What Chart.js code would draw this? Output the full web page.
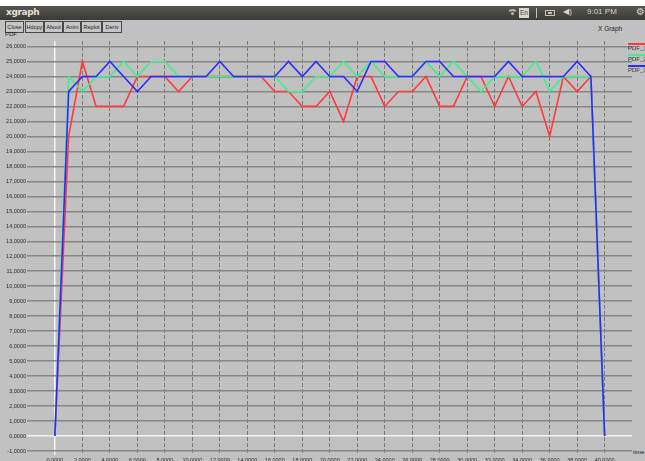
<!DOCTYPE html>
<html>
<head>
<meta charset="utf-8">
<script src="https://cdn.jsdelivr.net/npm/chart.js@4/dist/chart.umd.min.js"></script>
<style>
  html, body { margin: 0; padding: 0; }
  body { width: 645px; height: 461px; overflow: hidden; background: #c1c1c1; position: relative;
         font-family: "Liberation Sans", "DejaVu Sans", sans-serif; }
  #strip { position: absolute; left: 0; top: 0; width: 645px; height: 6px; background: #fff; }
  #panel { position: absolute; left: 0; top: 6px; width: 645px; height: 14px;
           background: linear-gradient(#57554f, #3c3b37); }
  #title { position: absolute; left: 6px; top: 7px; font: bold 9px "DejaVu Sans", sans-serif;
           color: #e4e0d8; letter-spacing: -0.4px; }
  .btn { position: absolute; top: 21px; height: 10px; border: 1px solid #4a4a4a; background: #c6c6c6;
         font-size: 5.6px; line-height: 10px; text-align: center; color: #222; box-sizing: content-box;
         overflow: hidden; white-space: nowrap; }
  .tray { position: absolute; color: #d8d4cc; }
  #wifi { left: 507px; top: 9px; width: 11px; height: 11px; border: 2px solid #bdbab2;
          border-color: #bdbab2 transparent transparent transparent; border-radius: 50%; box-sizing: border-box; }
  #wifi::after { content: ""; position: absolute; left: 2px; top: 1px; width: 3px; height: 3px; background: #bdbab2; border-radius: 50%; }
  #lang { left: 519px; top: 8px; width: 10px; height: 10px; background: #d9d6cf; color: #3c3b37;
          font-size: 6.5px; line-height: 10px; text-align: center; }
  #bt { left: 536px; top: 8px; width: 2px; height: 10px; border-left: 1px solid #c8c4bc; }
  #batt { left: 545px; top: 10px; width: 10px; height: 6px; border: 1px solid #c8c4bc; box-sizing: border-box; }
  #batt::after { content: ""; position: absolute; left: 2px; top: 1px; width: 4px; height: 2px; background: #c8c4bc; }
  #vol { left: 563px; top: 7px; font-size: 8px; }
  #clock { left: 587px; top: 7px; font-size: 8px; }
  #gear { left: 636px; top: 6px; font: 10px "DejaVu Sans", sans-serif; }
  #xg { position: absolute; left: 598px; top: 25px; font-size: 6.5px; color: #222; }
  #ylab { position: absolute; left: 5px; top: 31px; font-size: 6px; color: #222; }
  #tlab { position: absolute; left: 633px; top: 449px; font-size: 6px; color: #222; }
  .key { position: absolute; left: 628px; width: 20px; height: 9px; }
  .key span { position: absolute; left: 0; top: 0; width: 20px; height: 2px; }
  .key i { position: absolute; left: 0; top: 2px; font-style: normal; font-size: 6px; color: #333; white-space: nowrap; }
  #chart { position: absolute; left: 0; top: 0; }
</style>
</head>
<body>
<div id="strip"></div>
<div id="panel"></div>
<div id="title">xgraph</div>
<div class="tray" id="wifi"></div>
<div class="tray" id="lang">En</div>
<div class="tray" id="bt"></div>
<div class="tray" id="batt"></div>
<div class="tray" id="vol">◀)</div>
<div class="tray" id="clock">9:01 PM</div>
<div class="tray" id="gear">⚙</div>

<div class="btn" style="left:5px;width:17px">Close</div>
<div class="btn" style="left:25px;width:17px">Hdcpy</div>
<div class="btn" style="left:44px;width:17px">About</div>
<div class="btn" style="left:63px;width:16px">Anim</div>
<div class="btn" style="left:81px;width:19px">Replot</div>
<div class="btn" style="left:102px;width:18px">Deriv</div>
<div id="xg">X Graph</div>
<div id="ylab">PDF</div>
<div id="tlab">time</div>

<canvas id="chart" width="645" height="475" style="width:645px;height:475px"></canvas>

<div class="key" style="top:43px"><span style="background:#ff3a3a"></span><i>PDF_1</i></div>
<div class="key" style="top:54px"><span style="background:#3cf08c"></span><i>PDF_2</i></div>
<div class="key" style="top:65px"><span style="background:#2b2bff"></span><i>PDF_3</i></div>

<script>
// sample times
const times = [0, 1, 2, 3, 4, 5, 6, 7, 8, 9, 10, 11, 12, 13, 14, 15, 16, 17, 18, 19, 20,
               21, 22, 23, 24, 25, 26, 27, 28, 29, 30, 31, 32, 33, 34, 35, 36, 37, 38, 39, 40];

// PDF_1 (red)
const pdf1 = [0, 20, 25, 22, 22, 22, 24, 24, 24, 23, 24, 24, 24, 24, 24, 24, 23, 23, 22, 22, 23,
              21, 24, 24, 22, 23, 23, 24, 22, 22, 24, 24, 22, 24, 22, 23, 20, 24, 23, 24, 0];
// PDF_2 (green)
const pdf2 = [0, 24, 23, 24, 24, 25, 24, 25, 25, 24, 24, 24, 24, 24, 24, 24, 24, 23, 23, 24, 24,
              25, 24, 25, 24, 24, 24, 25, 24, 25, 24, 23, 24, 24, 24, 25, 23, 24, 24, 24, 0];
// PDF_3 (blue)
const pdf3 = [0, 23, 24, 24, 25, 24, 23, 24, 24, 24, 24, 24, 25, 24, 24, 24, 24, 25, 24, 25, 24,
              24, 23, 25, 25, 24, 24, 25, 25, 24, 24, 24, 24, 25, 24, 24, 24, 24, 25, 24, 0];

// axis ticks
const xTickValues = [0, 2, 4, 6, 8, 10, 12, 14, 16, 18, 20, 22, 24, 26, 28, 30, 32, 34, 36, 38, 40];
const yTickValues = [-1, 0, 1, 2, 3, 4, 5, 6, 7, 8, 9, 10, 11, 12, 13, 14, 15, 16, 17, 18, 19,
                     20, 21, 22, 23, 24, 25, 26];

const toPoints = ys => times.map((t, i) => ({ x: t, y: ys[i] }));
const isZero = c => c.tick && c.tick.value === 0;
const tickFont = { family: "Liberation Sans", size: 5.5 };

new Chart(document.getElementById('chart'), {
  type: 'line',
  data: {
    datasets: [
      { label: 'PDF_1', data: toPoints(pdf1), borderColor: '#ff3a3a', borderWidth: 1.6,
        pointRadius: 0, tension: 0, order: 3 },
      { label: 'PDF_2', data: toPoints(pdf2), borderColor: '#3cf08c', borderWidth: 1.6,
        pointRadius: 0, tension: 0, order: 2 },
      { label: 'PDF_3', data: toPoints(pdf3), borderColor: '#2b2bff', borderWidth: 1.6,
        pointRadius: 0, tension: 0, order: 1 }
    ]
  },
  options: {
    responsive: false,
    devicePixelRatio: 1,
    animation: false,
    layout: { padding: { top: 41, right: 13, left: 0, bottom: 0 } },
    plugins: { legend: { display: false }, tooltip: { enabled: false } },
    scales: {
      x: {
        type: 'linear', min: -2.03, max: 41.99,
        afterBuildTicks: s => { s.ticks = xTickValues.map(v => ({ value: v })); },
        afterFit: s => { s.height = 20; },
        grid: { color: c => isZero(c) ? '#f4f4f4' : '#7a7a7a', lineWidth: c => isZero(c) ? 1.5 : 1, drawTicks: false },
        border: { display: false, dash: c => isZero(c) ? [] : [4, 2] },
        ticks: { autoSkip: false, maxRotation: 0, minRotation: 0, padding: 2, color: '#2a2a2a',
                 font: tickFont, callback: v => Number(v).toFixed(4) }
      },
      y: {
        min: -1.267, max: 26.367,
        afterBuildTicks: s => { s.ticks = yTickValues.map(v => ({ value: v })); },
        afterFit: s => { s.width = 27; },
        grid: { color: c => isZero(c) ? '#f4f4f4' : '#868686', lineWidth: 1.5, drawTicks: false },
        border: { display: false },
        ticks: { padding: 1, color: '#2a2a2a', font: tickFont,
                 callback: v => Number(v).toFixed(4).replace('.', ',') }
      }
    }
  }
});
</script>
</body>
</html>
